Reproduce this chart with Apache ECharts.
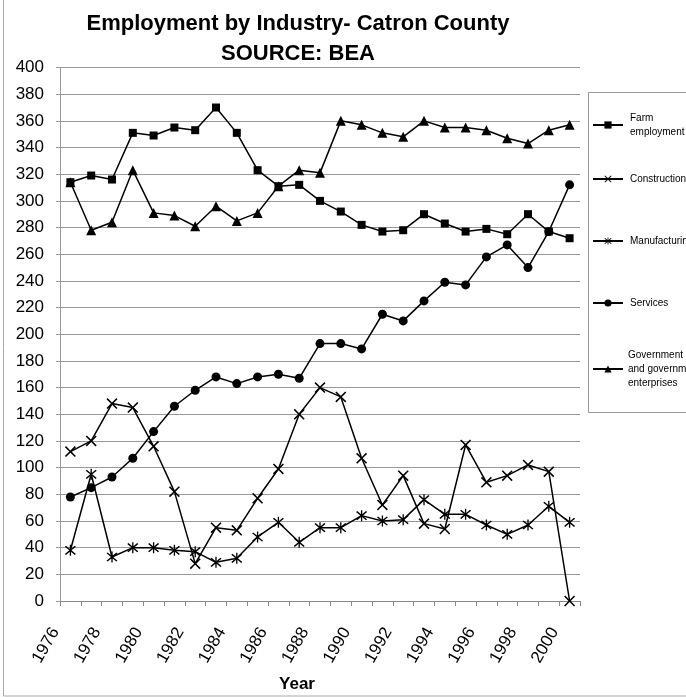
<!DOCTYPE html>
<html><head><meta charset="utf-8">
<script src="https://cdn.jsdelivr.net/npm/echarts@6/dist/echarts.min.js"></script>
<style>html,body{margin:0;padding:0;background:#fff}#c{width:686px;height:698px}</style>
</head><body><div id="c"></div>
<script>
const years = ['1976','1977','1978','1979','1980','1981','1982','1983','1984','1985','1986','1987','1988','1989','1990','1991','1992','1993','1994','1995','1996','1997','1998','1999','2000'];
const farm = [314,319,316,351,349,355,353,370,351,323,311,312,300,292,282,277,278,290,283,277,279,275,290,277,272];
const construction = [112,120,148,145,116,82,28,55,53,77,99,140,160,153,107,72,94,58,54,117,89,94,102,97,0];
const manufacturing = [38,95,33,40,40,38,37,29,32,48,59,44,55,55,64,60,61,76,65,65,57,50,57,71,59];
const services = [78,85,93,107,127,146,158,168,163,168,170,167,193,193,189,215,210,225,239,237,258,267,250,277,312];
const government = [314,278,284,323,291,289,281,296,285,291,311,323,321,360,357,351,348,360,355,355,353,347,343,353,357];
const yTicks = {min:0, max:400, step:20};

const names = ['Farm employment','Construction','Manufacturing','Services','Government and government enterprises'];
const legendText = {
  'Farm employment':'Farm\nemployment',
  'Construction':'Construction',
  'Manufacturing':'Manufacturing',
  'Services':'Services',
  'Government and government enterprises':'Government\nand government\nenterprises'
};
const crossPath = 'path://M0,1L1,0L5,4L9,0L10,1L6,5L10,9L9,10L5,6L1,10L0,9L4,5Z';
const starPath = 'path://M0,1L1,0L5,4L9,0L10,1L6,5L10,9L9,10L5,6L1,10L0,9L4,5Z M4.4,-1L5.6,-1L5.6,11L4.4,11Z';
const FONT = 'Liberation Sans, Arial, sans-serif';

function mk(name, data, symbol, size){
  return {name, type:'line', data, symbol, symbolSize:size, showSymbol:true,
    lineStyle:{color:'#000', width:1.5}, itemStyle:{color:'#000', borderColor:'#000', borderWidth:0},
    emphasis:{disabled:true}, animation:false, z:3};
}
const legendTops = [106,167,229,291,329];
const legendPad = [[0,0,0,2],[0,0,0,2],[0,0,0,2],[0,0,0,2],[28,0,0,0]];
const legends = names.map((n,i)=>({
  data:[n], left:587, top:legendTops[i], orient:'vertical', itemWidth:30, itemHeight:9, itemGap:0,
  formatter:(x)=>legendText[x], selectedMode:false,
  textStyle:{fontFamily:FONT, fontSize:10, color:'#000', lineHeight:14, padding:legendPad[i]}
}));

const chart = echarts.init(document.getElementById('c'), null, {renderer:'canvas'});
chart.setOption({
  backgroundColor:'#fff',
  animation:false,
  title:[{text:'Employment by Industry- Catron County\nSOURCE: BEA', left:293, top:4, textAlign:'center',
    textStyle:{fontFamily:FONT, fontWeight:'bold', fontSize:22, color:'#000', lineHeight:30}}],
  legend:legends,
  grid:{left:60, right:106, top:67.5, bottom:95.5, containLabel:false},
  xAxis:{type:'category', data:years, boundaryGap:true,
    name:'Year', nameLocation:'middle', nameGap:75,
    nameTextStyle:{fontFamily:FONT, fontWeight:'bold', fontSize:17, color:'#000', padding:[0,46,0,0]},
    axisLine:{lineStyle:{color:'#888', width:1}},
    axisTick:{show:true, interval:0, length:5, lineStyle:{color:'#888'}},
    axisLabel:{interval:1, rotate:60, margin:2, fontFamily:FONT, fontSize:17, color:'#000', padding:[0,30,0,0]},
    splitLine:{show:false}},
  yAxis:{type:'value', min:yTicks.min, max:yTicks.max, interval:yTicks.step,
    axisLine:{show:true, lineStyle:{color:'#999', width:1}},
    axisTick:{show:true, length:4, lineStyle:{color:'#999'}},
    axisLabel:{margin:16, fontFamily:FONT, fontSize:17, color:'#000'},
    splitLine:{show:true, lineStyle:{color:'#999', width:1}}},
  series:[
    mk(names[0], farm, 'rect', 8),
    mk(names[1], construction, crossPath, 11),
    mk(names[2], manufacturing, starPath, 11),
    mk(names[3], services, 'circle', 9),
    mk(names[4], government, 'triangle', 10)
  ],
  graphic:[
    {type:'rect', shape:{x:588.5, y:92.5, width:110, height:320}, style:{fill:null, stroke:'#999', lineWidth:1}, z:0},
    {type:'rect', shape:{x:3.5, y:-2, width:700, height:698}, style:{fill:null, stroke:'#aaa', lineWidth:1}, z:0}
  ]
});
</script></body></html>
